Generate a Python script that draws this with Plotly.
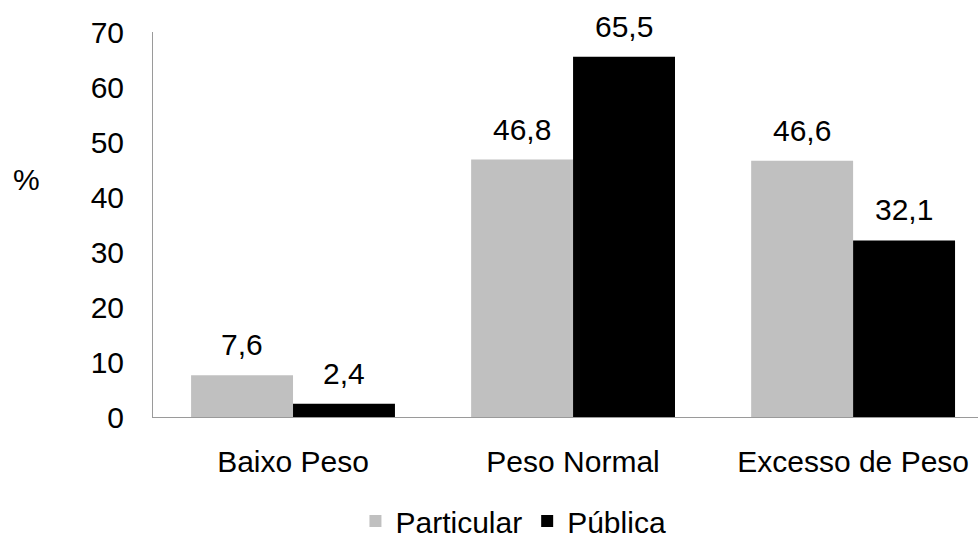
import plotly.graph_objects as go

categories = ["Baixo Peso", "Peso Normal", "Excesso de Peso"]
particular = [7.6, 46.8, 46.6]
publica = [2.4, 65.5, 32.1]
y_ticks = [0, 10, 20, 30, 40, 50, 60, 70]

FONT = "Liberation Sans, Arial, sans-serif"
FS = 30

fig = go.Figure()
fig.add_trace(go.Bar(x=categories, y=particular, name="Particular",
                     marker=dict(color="#C0C0C0", line=dict(width=0))))
fig.add_trace(go.Bar(x=categories, y=publica, name="Pública",
                     marker=dict(color="#000000", line=dict(width=0))))

annotations = []
for series, shift in ((particular, -51), (publica, 51)):
    for c, v in zip(categories, series):
        annotations.append(dict(x=c, y=v, xref="x", yref="y", text=f"{v:.1f}".replace(".", ","),
                                showarrow=False, xshift=shift, yanchor="bottom", yshift=12,
                                font=dict(family=FONT, size=FS, color="black")))
annotations.append(dict(x=0, y=0.616, xref="paper", yref="paper", text="%", showarrow=False,
                        xshift=-127, xanchor="center", yanchor="middle",
                        font=dict(family=FONT, size=FS, color="black")))

fig.update_layout(
    width=978, height=547,
    margin=dict(l=153, r=0, t=32, b=130),
    paper_bgcolor="white", plot_bgcolor="white",
    font=dict(family=FONT, size=FS, color="black"),
    barmode="group", bargap=0.272, bargroupgap=0,
    separators=",.",
    showlegend=True,
    legend=dict(orientation="h", xref="container", yref="container",
                x=0.525, xanchor="center", y=-0.012, yanchor="bottom",
                font=dict(family=FONT, size=FS, color="black"),
                itemwidth=30, tracegroupgap=0),
    annotations=annotations,
    xaxis=dict(range=[-0.5, 2.446], showline=True, linecolor="#9A9A9A", linewidth=1,
               ticks="", showgrid=False, zeroline=False, ticklabelstandoff=18,
               tickfont=dict(family=FONT, size=FS, color="black")),
    yaxis=dict(range=[0, 70], tickvals=y_ticks, showline=True, linecolor="#9A9A9A", linewidth=1,
               ticks="", showgrid=False, zeroline=False, ticklabelstandoff=22,
               tickfont=dict(family=FONT, size=FS, color="black")),
)

fig.write_html("out.html")
